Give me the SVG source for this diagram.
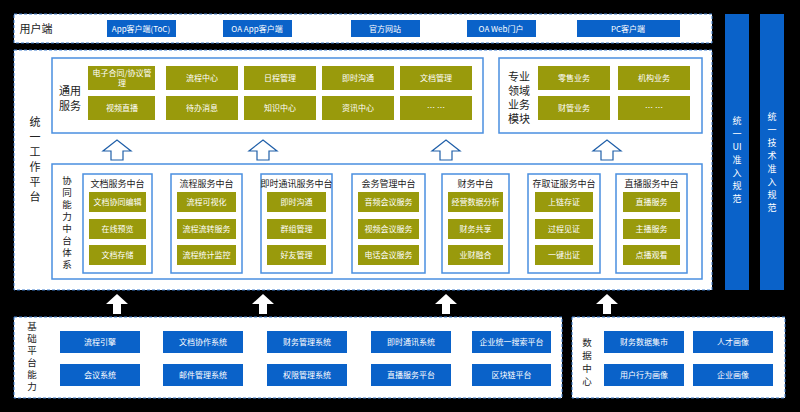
<svg xmlns="http://www.w3.org/2000/svg" width="800" height="412" viewBox="0 0 800 412">
<style>
text{font-family:"Noto Sans CJK SC","Liberation Sans",sans-serif}
.panel{fill:#fff;stroke:#3f7fd0;stroke-width:1;stroke-dasharray:3 2}
.box{fill:#fff;stroke:#4a8fe0;stroke-width:1.5}
.b{fill:#0a62c9}
.o{fill:#999a0c}
.t{fill:#fff;font-size:8px;text-anchor:middle}
.lab{fill:#222;font-size:11px;text-anchor:middle}
.vl{fill:#222;font-size:9.5px;text-anchor:middle}
.sub{fill:#222;font-size:9px;text-anchor:middle}
.vt{fill:#fff;font-size:9px;text-anchor:middle}
</style>
<rect width="800" height="412" fill="#000"/>
<g id="user">
<rect class="panel" x="14" y="14" width="698" height="29"/>
<text x="36" y="33" class="lab">用户端</text>
<rect class="b" x="107" y="20" width="69" height="17"/><text class="t" x="141" y="31.5">App客户端(ToC)</text>
<rect class="b" x="223" y="20" width="69" height="17"/><text class="t" x="257" y="31.5">OA App客户端</text>
<rect class="b" x="351" y="20" width="69" height="17"/><text class="t" x="385" y="31.5">官方网站</text>
<rect class="b" x="467" y="20" width="69" height="17"/><text class="t" x="501" y="31.5">OA Web门户</text>
<rect class="b" x="577" y="20" width="103" height="17"/><text class="t" x="628" y="31.5">PC客户端</text>
</g>
<g id="ui-spec"><rect class="b" x="725" y="14" width="24" height="276"/>
<text class="vt"><tspan x="737" y="124">统</tspan><tspan x="737" y="137">一</tspan><tspan x="737" y="150">UI</tspan><tspan x="737" y="163">准</tspan><tspan x="737" y="176">入</tspan><tspan x="737" y="189">规</tspan><tspan x="737" y="202">范</tspan></text></g>
<g id="tech-spec"><rect class="b" x="760" y="14" width="24" height="276"/>
<text class="vt"><tspan x="772" y="120">统</tspan><tspan x="772" y="133">一</tspan><tspan x="772" y="146">技</tspan><tspan x="772" y="159">术</tspan><tspan x="772" y="172">准</tspan><tspan x="772" y="185">入</tspan><tspan x="772" y="198">规</tspan><tspan x="772" y="211">范</tspan></text></g>
<g id="platform">
<rect class="panel" x="14" y="50" width="698" height="240"/>
<text class="lab"><tspan x="35" y="126">统</tspan><tspan x="35" y="141">一</tspan><tspan x="35" y="156">工</tspan><tspan x="35" y="171">作</tspan><tspan x="35" y="186">平</tspan><tspan x="35" y="201">台</tspan></text>
</g>
<g id="common">
<rect class="box" x="52" y="58" width="431" height="75"/>
<text class="lab"><tspan x="70" y="95">通用</tspan><tspan x="70" y="110">服务</tspan></text>
<rect class="o" x="88" y="66" width="67" height="24"/><text class="t"><tspan x="122" y="76">电子合同/协议管</tspan><tspan x="122" y="86">理</tspan></text>
<rect class="o" x="166" y="66" width="72" height="24"/><text class="t" x="202" y="81">流程中心</text>
<rect class="o" x="244" y="66" width="72" height="24"/><text class="t" x="280" y="81">日程管理</text>
<rect class="o" x="322" y="66" width="72" height="24"/><text class="t" x="358" y="81">即时沟通</text>
<rect class="o" x="400" y="66" width="72" height="24"/><text class="t" x="436" y="81">文档管理</text>
<rect class="o" x="88" y="96" width="67" height="24"/><text class="t" x="122" y="111">视频直播</text>
<rect class="o" x="166" y="96" width="72" height="24"/><text class="t" x="202" y="111">待办消息</text>
<rect class="o" x="244" y="96" width="72" height="24"/><text class="t" x="280" y="111">知识中心</text>
<rect class="o" x="322" y="96" width="72" height="24"/><text class="t" x="358" y="111">资讯中心</text>
<rect class="o" x="400" y="96" width="72" height="24"/><text class="t" x="436" y="111">… …</text>
</g>
<g id="domain">
<rect class="box" x="499" y="58" width="203" height="75"/>
<text class="lab"><tspan x="519" y="81">专业</tspan><tspan x="519" y="95">领域</tspan><tspan x="519" y="109">业务</tspan><tspan x="519" y="123">模块</tspan></text>
<rect class="o" x="538" y="66" width="72" height="24"/><text class="t" x="574" y="81">零售业务</text>
<rect class="o" x="618" y="66" width="72" height="24"/><text class="t" x="654" y="81">机构业务</text>
<rect class="o" x="538" y="96" width="72" height="24"/><text class="t" x="574" y="111">财管业务</text>
<rect class="o" x="618" y="96" width="72" height="24"/><text class="t" x="654" y="111">… …</text>
</g>
<g id="middle">
<rect class="box" x="52" y="164" width="650" height="115"/>
<text class="vl"><tspan x="67" y="184">协</tspan><tspan x="67" y="196">同</tspan><tspan x="67" y="208">能</tspan><tspan x="67" y="220">力</tspan><tspan x="67" y="232">中</tspan><tspan x="67" y="244">台</tspan><tspan x="67" y="256">体</tspan><tspan x="67" y="268">系</tspan></text>
</g>
<g id="mid-doc"><rect class="box" x="83" y="174" width="69" height="99"/><text class="sub" x="117.5" y="187">文档服务中台</text>
<rect class="o" x="89" y="192" width="57" height="20"/><text class="t" x="117.5" y="205">文档协同编辑</text>
<rect class="o" x="89" y="219" width="57" height="20"/><text class="t" x="117.5" y="232">在线预览</text>
<rect class="o" x="89" y="245" width="57" height="20"/><text class="t" x="117.5" y="258">文档存储</text></g>
<g id="mid-flow"><rect class="box" x="171" y="174" width="71" height="99"/><text class="sub" x="206.5" y="187">流程服务中台</text>
<rect class="o" x="177" y="192" width="59" height="20"/><text class="t" x="206.5" y="205">流程可视化</text>
<rect class="o" x="177" y="219" width="59" height="20"/><text class="t" x="206.5" y="232">流程流转服务</text>
<rect class="o" x="177" y="245" width="59" height="20"/><text class="t" x="206.5" y="258">流程统计监控</text></g>
<g id="mid-im"><rect class="box" x="261" y="174" width="71" height="99"/><text class="sub" x="296.5" y="187" font-size="8.5">即时通讯服务中台</text>
<rect class="o" x="267" y="192" width="59" height="20"/><text class="t" x="296.5" y="205">即时沟通</text>
<rect class="o" x="267" y="219" width="59" height="20"/><text class="t" x="296.5" y="232">群组管理</text>
<rect class="o" x="267" y="245" width="59" height="20"/><text class="t" x="296.5" y="258">好友管理</text></g>
<g id="mid-meet"><rect class="box" x="352" y="174" width="73" height="99"/><text class="sub" x="388.5" y="187">会务管理中台</text>
<rect class="o" x="358" y="192" width="61" height="20"/><text class="t" x="388.5" y="205">音频会议服务</text>
<rect class="o" x="358" y="219" width="61" height="20"/><text class="t" x="388.5" y="232">视频会议服务</text>
<rect class="o" x="358" y="245" width="61" height="20"/><text class="t" x="388.5" y="258">电话会议服务</text></g>
<g id="mid-fin"><rect class="box" x="442" y="174" width="67" height="99"/><text class="sub" x="475.5" y="187">财务中台</text>
<rect class="o" x="448" y="192" width="55" height="20"/><text class="t" x="475.5" y="205">经营数据分析</text>
<rect class="o" x="448" y="219" width="55" height="20"/><text class="t" x="475.5" y="232">财务共享</text>
<rect class="o" x="448" y="245" width="55" height="20"/><text class="t" x="475.5" y="258">业财融合</text></g>
<g id="mid-evi"><rect class="box" x="528" y="174" width="72" height="99"/><text class="sub" x="564" y="187">存取证服务中台</text>
<rect class="o" x="535" y="192" width="58" height="20"/><text class="t" x="564" y="205">上链存证</text>
<rect class="o" x="535" y="219" width="58" height="20"/><text class="t" x="564" y="232">过程见证</text>
<rect class="o" x="535" y="245" width="58" height="20"/><text class="t" x="564" y="258">一键出证</text></g>
<g id="mid-live"><rect class="box" x="616" y="174" width="71" height="99"/><text class="sub" x="651.5" y="187">直播服务中台</text>
<rect class="o" x="623" y="192" width="57" height="20"/><text class="t" x="651.5" y="205">直播服务</text>
<rect class="o" x="623" y="219" width="57" height="20"/><text class="t" x="651.5" y="232">主播服务</text>
<rect class="o" x="623" y="245" width="57" height="20"/><text class="t" x="651.5" y="258">点播观看</text></g>
<g id="base">
<rect class="panel" x="14" y="317" width="548" height="81"/>
<text class="vl"><tspan x="32" y="330">基</tspan><tspan x="32" y="342">础</tspan><tspan x="32" y="354">平</tspan><tspan x="32" y="366">台</tspan><tspan x="32" y="378">能</tspan><tspan x="32" y="390">力</tspan></text>
<rect class="b" x="60" y="331" width="80" height="22"/><text class="t" x="100" y="345">流程引擎</text>
<rect class="b" x="163" y="331" width="80" height="22"/><text class="t" x="203" y="345">文档协作系统</text>
<rect class="b" x="267" y="331" width="80" height="22"/><text class="t" x="307" y="345">财务管理系统</text>
<rect class="b" x="371" y="331" width="80" height="22"/><text class="t" x="411" y="345">即时通讯系统</text>
<rect class="b" x="472" y="331" width="79" height="22"/><text class="t" x="511.5" y="345">企业统一搜索平台</text>
<rect class="b" x="60" y="364" width="80" height="22"/><text class="t" x="100" y="378">会议系统</text>
<rect class="b" x="163" y="364" width="80" height="22"/><text class="t" x="203" y="378">邮件管理系统</text>
<rect class="b" x="267" y="364" width="80" height="22"/><text class="t" x="307" y="378">权限管理系统</text>
<rect class="b" x="371" y="364" width="80" height="22"/><text class="t" x="411" y="378">直播服务平台</text>
<rect class="b" x="472" y="364" width="79" height="22"/><text class="t" x="511.5" y="378">区块链平台</text>
</g>
<g id="data">
<rect class="panel" x="572" y="317" width="213" height="81"/>
<text class="vl"><tspan x="587" y="346">数</tspan><tspan x="587" y="359">据</tspan><tspan x="587" y="372">中</tspan><tspan x="587" y="385">心</tspan></text>
<rect class="b" x="604" y="331" width="80" height="22"/><text class="t" x="644" y="345">财务数据集市</text>
<rect class="b" x="693" y="331" width="80" height="22"/><text class="t" x="733" y="345">人才画像</text>
<rect class="b" x="604" y="364" width="80" height="22"/><text class="t" x="644" y="378">用户行为画像</text>
<rect class="b" x="693" y="364" width="80" height="22"/><text class="t" x="733" y="378">企业画像</text>
</g>
<g id="connectors">
<g fill="#fff" stroke="#1f5fa8" stroke-width="1.2">
<path d="M111,160 v-9 h-8 l14,-11 l14,11 h-8 v9 z"/>
<path d="M257,160 v-9 h-8 l14,-11 l14,11 h-8 v9 z"/>
<path d="M440,160 v-9 h-8 l14,-11 l14,11 h-8 v9 z"/>
<path d="M601,160 v-9 h-8 l14,-11 l14,11 h-8 v9 z"/>
</g>
<g fill="#fff">
<path d="M113,314 v-10 h-7 l11,-10 l11,10 h-7 v10 z"/>
<path d="M259,314 v-10 h-7 l11,-10 l11,10 h-7 v10 z"/>
<path d="M442,314 v-10 h-7 l11,-10 l11,10 h-7 v10 z"/>
<path d="M603,314 v-10 h-7 l11,-10 l11,10 h-7 v10 z"/>
</g>
</g>
</svg>
